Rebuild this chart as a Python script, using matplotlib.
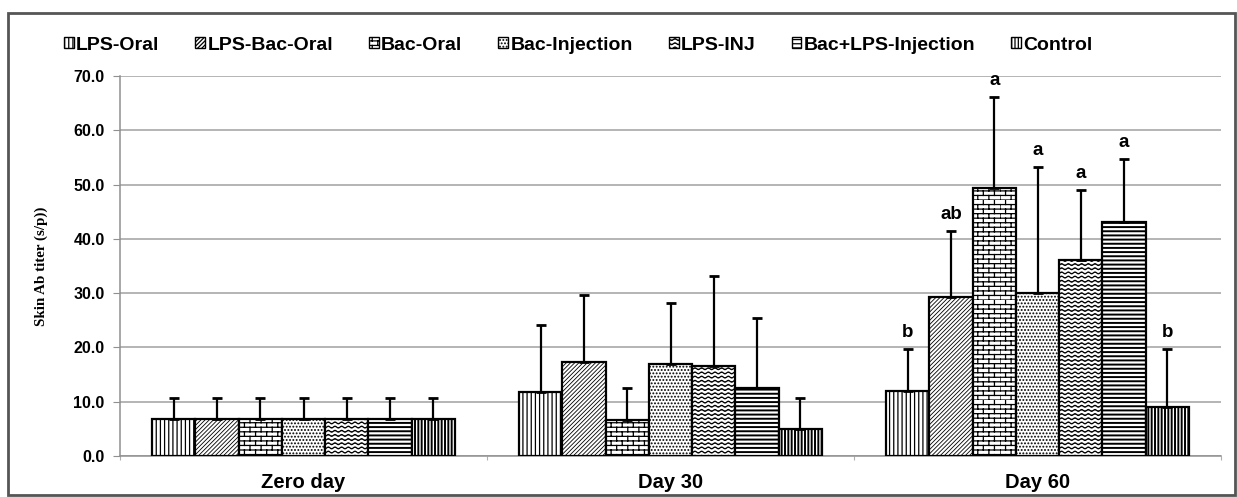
import numpy as np
import matplotlib
matplotlib.use('Agg')
import matplotlib.pyplot as plt
import matplotlib.hatch as mhatch
from matplotlib.path import Path
from matplotlib.patches import Patch, Rectangle

# data
groups = ['Zero day', 'Day 30', 'Day 60']
series = ['LPS-Oral', 'LPS-Bac-Oral', 'Bac-Oral', 'Bac-Injection',
          'LPS-INJ', 'Bac+LPS-Injection', 'Control']
means = [
    [6.9, 11.8, 12.0],
    [6.9, 17.3, 29.3],
    [6.9, 6.6, 49.4],
    [6.9, 16.9, 30.0],
    [6.9, 16.6, 36.1],
    [6.9, 12.5, 43.1],
    [6.9, 5.0, 9.0],
]
sds = [
    [3.8, 12.3, 7.7],
    [3.8, 12.4, 12.1],
    [3.8, 5.9, 16.7],
    [3.8, 11.3, 23.2],
    [3.8, 16.6, 12.9],
    [3.8, 12.9, 11.6],
    [3.8, 5.7, 10.7],
]
day60_letters = ['b', 'ab', 'a', 'a', 'a', 'a', 'b']

# hatches ('O' = brick, 'o' = wave, handled below)
hatches = ['||||', '////////', 'O', '.....', 'o', '----', '|||||']
hatch_lw = [0.9, 0.6, 0.9, 0.9, 0.9, 1.4, 1.4]


# custom brick / wave patterns
def brick_path(rows=22, cols=9):
    verts, codes = [], []
    for i in range(rows):
        y0 = i / rows
        y1 = (i + 1) / rows
        verts += [(0, y0), (1, y0)]
        codes += [Path.MOVETO, Path.LINETO]
        shift = 0.5 * (i % 2)
        for j in range(cols):
            x = (j + shift) / cols
            verts += [(x, y0), (x, y1)]
            codes += [Path.MOVETO, Path.LINETO]
    return Path(np.array(verts), codes)


def wave_path(rows=24, waves=15, amp=0.009):
    verts, codes = [], []
    xs = np.linspace(0, 1, waves * 8 + 1)
    for i in range(rows):
        yc = (i + 0.5) / rows
        ys = yc + amp * np.sin(2 * np.pi * waves * xs)
        verts += list(zip(xs, ys))
        codes += [Path.MOVETO] + [Path.LINETO] * (len(xs) - 1)
    return Path(np.array(verts), codes)


_orig_get_path = mhatch.get_path
_brick = brick_path()
_wave = wave_path()


def get_path(hatchpattern, density=6):
    if hatchpattern == 'O':
        return _brick
    if hatchpattern == 'o':
        return _wave
    return _orig_get_path(hatchpattern, density)


mhatch.get_path = get_path

plt.rcParams['font.family'] = ['Liberation Sans', 'DejaVu Sans']
plt.rcParams['font.weight'] = 'bold'
plt.rcParams['hatch.linewidth'] = 0.9

fig = plt.figure(figsize=(12.37, 4.97), dpi=100)
ax = fig.add_axes([120 / 1237, 1 - 456 / 497, 1101 / 1237, 380 / 497])

n = len(series)
width = 0.118
x = np.arange(len(groups))
for k in range(n):
    pos = x + (k - (n - 1) / 2) * width
    bars = ax.bar(pos, means[k], width, color='white', edgecolor='black',
                  linewidth=1.6, hatch=hatches[k], zorder=3)
    for b in bars:
        try:
            b.set_hatch_linewidth(hatch_lw[k])
        except AttributeError:
            pass
    ax.errorbar(pos, means[k], yerr=[np.zeros(len(groups)), sds[k]],
                fmt='none', ecolor='black', elinewidth=1.6, capsize=3.5,
                capthick=2, zorder=4)
    ax.annotate(day60_letters[k], (pos[2], means[k][2] + sds[k][2]),
                xytext=(0, 6), textcoords='offset points', ha='center',
                va='bottom', fontsize=13.5, fontweight='bold')

ax.set_xlim(-0.5, 2.5)
ax.set_ylim(0, 70)
ax.set_yticks(np.arange(0, 71, 10))
ax.set_yticklabels(['%.1f' % v for v in np.arange(0, 71, 10)], fontsize=11.5)
ax.yaxis.grid(True, color='#a0a0a0', linewidth=1.1, zorder=0)
ax.set_axisbelow(True)

ax.set_xticks([-0.5, 0.5, 1.5, 2.5])
ax.set_xticklabels([])
ax.set_xticks(x, minor=True)
ax.set_xticklabels(groups, minor=True, fontsize=14.5)
ax.tick_params(axis='x', which='minor', length=0, pad=12)
ax.tick_params(axis='x', which='major', length=3, color='#b0b0b0')
ax.tick_params(axis='y', length=5, color='#909090', pad=6)

for s in ['top', 'right']:
    ax.spines[s].set_visible(False)
for s in ['left', 'bottom']:
    ax.spines[s].set_color('#909090')
    ax.spines[s].set_linewidth(1.1)

ax.set_ylabel('Skin Ab titer (s/p))', family=['Liberation Serif'],
              fontweight='bold', fontsize=10.8, labelpad=18)

handles = [Patch(facecolor='white', edgecolor='black', hatch=h, linewidth=1)
           for h in hatches]
fig.legend(handles, series, loc='center', bbox_to_anchor=(0.4675, 1 - 45 / 497),
           ncol=7, frameon=False, handlelength=0.5,
           handleheight=0.55, handletextpad=0.12, columnspacing=1.85,
           prop={'weight': 'bold', 'size': 14})

fig.patches.append(Rectangle((8 / 1237, 1 - 495 / 497), 1227 / 1237,
                             482 / 497, transform=fig.transFigure,
                             fill=False, edgecolor='#555555', linewidth=2))

fig.savefig('out.png', dpi=100)
